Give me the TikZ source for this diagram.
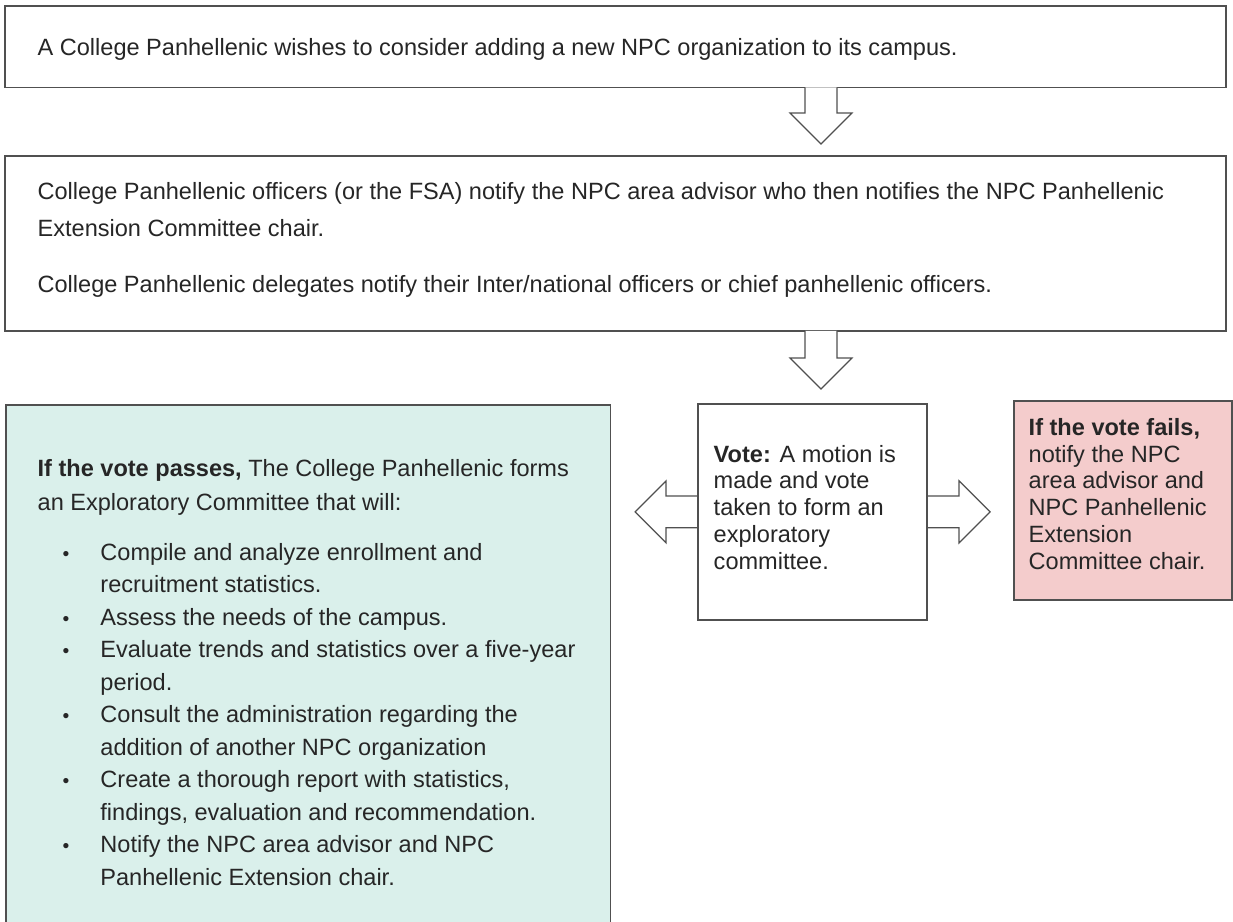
\documentclass[tikz,border=0pt]{standalone}
\usepackage{fontspec}
\setmainfont{Liberation Sans}
\usetikzlibrary{calc,backgrounds}

\definecolor{boxline}{HTML}{505050}
\definecolor{inktext}{HTML}{262626}
\definecolor{passfill}{HTML}{DAF0EB}
\definecolor{failfill}{HTML}{F4CCCC}

\newlength\px
\setlength\px{0.5669pt}

\newcommand{\boxtext}[5]{%
  \parbox[t][#1\px][t]{#2\px}{\raggedright\leftskip=#3\px
    \rule{0pt}{#4\px}#5}}
\newcommand{\bitem}{\noindent\llap{\makebox[38\px][l]{\fontsize{11}{11}\selectfont •}}}

\newcommand{\blockarrow}[2]{%
  \path ($(#2)!17.6pt!(#1)$) coordinate (hb);
  \fill[white] ($(#1)!9.1pt!90:(#2)$) -- ($(hb)!9.1pt!90:(#2)$) -- ($(hb)!17.6pt!90:(#2)$) -- (#2)
    -- ($(hb)!17.6pt!-90:(#2)$) -- ($(hb)!9.1pt!-90:(#2)$) -- ($(#1)!9.1pt!-90:(#2)$) -- cycle;
  \draw[arrowline] ($(#1)!9.1pt!90:(#2)$) -- ($(hb)!9.1pt!90:(#2)$) -- ($(hb)!17.6pt!90:(#2)$) -- (#2)
    -- ($(hb)!17.6pt!-90:(#2)$) -- ($(hb)!9.1pt!-90:(#2)$) -- ($(#1)!9.1pt!-90:(#2)$);
}

\tikzset{
  stepbox/.style={rectangle, draw=boxline, line width=0.9pt, fill=white, anchor=north west, inner sep=0pt, text=inktext},
  passbox/.style={stepbox, fill=passfill},
  failbox/.style={stepbox, fill=failfill},
  arrowline/.style={draw=boxline, line width=0.7pt, line join=miter},
}

\begin{document}
\begin{tikzpicture}[x=0.02cm, y=-0.02cm]
  \useasboundingbox (0,0) rectangle (1233,921);

  \node[stepbox, font=\fontsize{13.4}{16}\selectfont] (start) at (4,5)
    {\boxtext{82}{1226}{33}{49.5}{A College Panhellenic wishes to consider adding a new NPC organization to its campus.}};
  \node[stepbox, font=\fontsize{13.4}{21.5}\selectfont] (notify) at (4,155)
    {\boxtext{176}{1226}{33}{43.5}{College Panhellenic officers (or the FSA) notify the NPC area advisor who then notifies the NPC Panhellenic\\
      Extension Committee chair.\\[18\px]
      College Panhellenic delegates notify their Inter/national officers or chief panhellenic officers.}};
  \node[stepbox, font=\fontsize{13.4}{15.3}\selectfont] (vote) at (697,403)
    {\boxtext{217}{230}{16}{58.5}{\textbf{Vote:} A motion is\\ made and vote\\ taken to form an\\ exploratory\\ committee.}};
  \node[failbox, font=\fontsize{13.4}{15.3}\selectfont] (fail) at (1013,400)
    {\boxtext{200}{219}{15}{34.5}{\textbf{If the vote fails,}\\ notify the NPC\\ area advisor and\\ NPC Panhellenic\\ Extension\\ Committee chair.}};
  \node[passbox, font=\fontsize{13.4}{18.5}\selectfont] (pass) at (5,404)
    {\boxtext{520}{607}{32}{71.5}{\textbf{If the vote passes,} The College Panhellenic forms\\[2\px]
      an Exploratory Committee that will:\par
      \vspace{17.4\px}\leftskip=95\px
      \bitem Compile and analyze enrollment and\\ recruitment statistics.\par
      \bitem Assess the needs of the campus.\par
      \bitem Evaluate trends and statistics over a five-year\\ period.\par
      \bitem Consult the administration regarding the\\ addition of another NPC organization\par
      \bitem Create a thorough report with statistics,\\ findings, evaluation and recommendation.\par
      \bitem Notify the NPC area advisor and NPC\\ Panhellenic Extension chair.}};

  \coordinate (axis) at (821,0);
  \coordinate (a1s) at ($(start.south -| axis)+(0,-1)$);
  \coordinate (a1t) at ($(notify.north -| axis)+(0,-11)$);
  \coordinate (a2s) at ($(notify.south -| axis)+(0,-1)$);
  \coordinate (a2t) at ($(vote.north -| axis)+(0,-14)$);
  \coordinate (passtip) at ($(pass.east |- vote.west)+(24,0)$);
  \coordinate (failtip) at ($(fail.west |- vote.east)+(-23,0)$);

  \blockarrow{a1s}{a1t}
  \blockarrow{a2s}{a2t}
  \begin{scope}[on background layer]
    \blockarrow{vote.west}{passtip}
    \blockarrow{vote.east}{failtip}
  \end{scope}
\end{tikzpicture}
\end{document}
